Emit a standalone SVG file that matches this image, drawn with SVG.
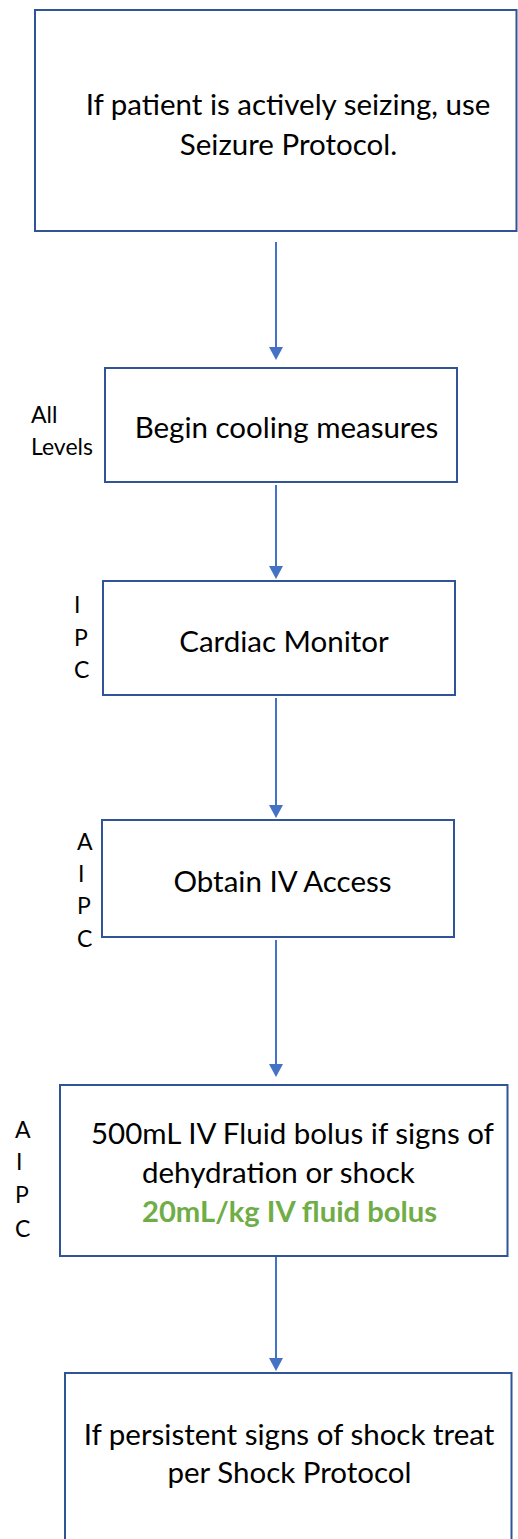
<svg xmlns="http://www.w3.org/2000/svg" width="518" height="1539" viewBox="0 0 518 1539">
  <style>
    .box { fill: #ffffff; stroke: #2F5597; stroke-width: 2; }
    .main { font-family: Lato, "Liberation Sans", sans-serif; font-size: 29.5px; fill: #000000; }
    .lvl { font-family: Lato, "Liberation Sans", sans-serif; font-size: 23px; fill: #000000; }
    .green { font-family: Lato, "Liberation Sans", sans-serif; font-size: 29.2px; font-weight: bold; fill: #70AD47; }
    .conn { stroke: #4472C4; stroke-width: 2; fill: none; }
  </style>
  <defs>
    <marker id="arrow" markerUnits="userSpaceOnUse" markerWidth="13" markerHeight="14" refX="0" refY="7" orient="auto" viewBox="0 0 13 14">
      <path d="M0,0 L13,7 L0,14 Z" fill="#4472C4"/>
    </marker>
  </defs>
  <rect width="518" height="1539" fill="#ffffff"/>

  <!-- connectors -->
  <g id="connectors">
    <line class="conn" x1="276" y1="242" x2="276" y2="347" marker-end="url(#arrow)"/>
    <line class="conn" x1="276" y1="485" x2="276" y2="566" marker-end="url(#arrow)"/>
    <line class="conn" x1="276" y1="698" x2="276" y2="805" marker-end="url(#arrow)"/>
    <line class="conn" x1="276" y1="940" x2="276" y2="1064" marker-end="url(#arrow)"/>
    <line class="conn" x1="276" y1="1257" x2="276" y2="1358" marker-end="url(#arrow)"/>
  </g>

  <!-- seizure check -->
  <g id="node-seizure">
    <rect class="box" x="35" y="10" width="481.5" height="221"/>
    <text class="main" text-anchor="middle" x="288" y="115">If patient is actively seizing, use</text>
    <text class="main" text-anchor="middle" x="288.5" y="155">Seizure Protocol.</text>
  </g>

  <!-- cooling -->
  <g id="node-cooling">
    <rect class="box" x="105" y="368" width="352" height="114"/>
    <text class="main" text-anchor="middle" x="286.5" y="438">Begin cooling measures</text>
    <text class="lvl" x="31" y="423">All</text>
    <text class="lvl" x="31" y="455">Levels</text>
  </g>

  <!-- cardiac monitor -->
  <g id="node-monitor">
    <rect class="box" x="103" y="581" width="352" height="114"/>
    <text class="main" text-anchor="middle" x="284" y="652">Cardiac Monitor</text>
    <text class="lvl" x="74" y="613">I</text>
    <text class="lvl" x="74" y="646">P</text>
    <text class="lvl" x="74" y="678">C</text>
  </g>

  <!-- IV access -->
  <g id="node-iv">
    <rect class="box" x="102" y="820" width="352" height="117"/>
    <text class="main" text-anchor="middle" x="282.5" y="892">Obtain IV Access</text>
    <text class="lvl" x="77" y="850">A</text>
    <text class="lvl" x="78" y="882">I</text>
    <text class="lvl" x="77" y="914">P</text>
    <text class="lvl" x="77" y="947">C</text>
  </g>

  <!-- fluid bolus -->
  <g id="node-bolus">
    <rect class="box" x="60" y="1085" width="447.5" height="171"/>
    <text class="main" x="91" y="1144">500mL IV Fluid bolus if signs of</text>
    <text class="main" x="142" y="1183">dehydration or shock</text>
    <text class="green" x="142" y="1222">20mL/kg IV fluid bolus</text>
    <text class="lvl" x="15" y="1138">A</text>
    <text class="lvl" x="16" y="1170">I</text>
    <text class="lvl" x="15" y="1203">P</text>
    <text class="lvl" x="15" y="1237">C</text>
  </g>

  <!-- shock -->
  <g id="node-shock">
    <rect class="box" x="65" y="1373" width="446.5" height="180"/>
    <text class="main" text-anchor="middle" x="289" y="1445">If persistent signs of shock treat</text>
    <text class="main" text-anchor="middle" x="289.5" y="1483">per Shock Protocol</text>
  </g>
</svg>
